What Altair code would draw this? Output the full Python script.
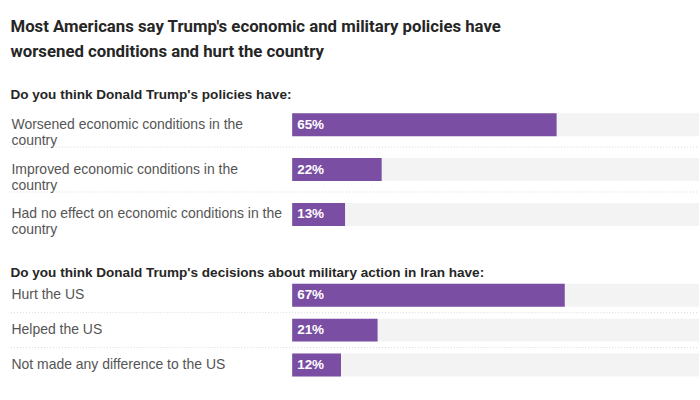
import altair as alt
import pandas as pd

# Survey answers, one list per question
q1_title = "Do you think Donald Trump's policies have:"
q1_labels = [
    "Worsened economic conditions in the\ncountry",
    "Improved economic conditions in the\ncountry",
    "Had no effect on economic conditions in the\ncountry",
]
q1_values = [65, 22, 13]

q2_title = "Do you think Donald Trump's decisions about military action in Iran have:"
q2_labels = [
    "Hurt the US",
    "Helped the US",
    "Not made any difference to the US",
]
q2_values = [67, 21, 12]

headline = [
    "Most Americans say Trump's economic and military policies have",
    "worsened conditions and hurt the country",
]

PURPLE = "#7a4ea3"
TRACK = "#f3f3f3"
GUTTER = 282      # room for the answer labels left of the bars
PLOT_W = 408      # bar track width
BAR_H = 23
FONT = "Liberation Sans"


def panel(title, labels, values, step, offset):
    df = pd.DataFrame({
        "answer": labels,
        "pct": values,
        "text": [f"{v}%" for v in values],
        "last": [i == len(labels) - 1 for i in range(len(labels))],
    })
    y = alt.Y(
        "answer:N",
        sort=labels,
        scale=alt.Scale(paddingInner=0, paddingOuter=0),
        axis=alt.Axis(
            title=None, domain=False, ticks=False, labelAlign="left",
            labelPadding=GUTTER, labelFontSize=14, labelColor="#555555",
            labelFont=FONT, labelLineHeight=16, labelLimit=290,
            labelExpr="split(datum.label, '\\n')",
        ),
    )
    xs = alt.Scale(domain=[0, 100], nice=False)
    base = alt.Chart(df)
    track = base.mark_bar(height=BAR_H, color=TRACK).encode(
        x=alt.datum(100, scale=xs, axis=None), y=y
    )
    bar = base.mark_bar(height=BAR_H, color=PURPLE).encode(
        x=alt.X("pct:Q", scale=xs, axis=None), y=y
    )
    txt = base.mark_text(
        align="left", dx=5, color="white", fontSize=13.5, fontWeight="bold", font=FONT
    ).encode(x=alt.datum(0, scale=xs), y=y, text="text:N")
    sep = base.transform_filter("!datum.last").mark_rule(
        color="#d9d9d9", strokeDash=[1, 2], strokeWidth=1
    ).encode(
        y=alt.Y("answer:N", sort=labels, bandPosition=1),
        x=alt.value(-GUTTER), x2=alt.value(PLOT_W),
    )
    return alt.layer(track, bar, txt, sep).properties(
        width=PLOT_W, height=alt.Step(step),
        title=alt.TitleParams(
            title, anchor="start", frame="bounds", fontSize=13.6, font=FONT,
            fontWeight="bold", color="#262626", offset=offset,
        ),
    )


chart = alt.vconcat(
    panel(q1_title, q1_labels, q1_values, 45, 1),
    panel(q2_title, q2_labels, q2_values, 35, -2),
    spacing=29,
).properties(
    title=alt.TitleParams(
        headline, anchor="start", frame="bounds", fontSize=16.8,
        font="Roboto", fontWeight="bold", color="#262626",
        lineHeight=25, offset=27,
    ),
    padding={"left": 10, "top": 18, "right": 0, "bottom": 0},
    background="white",
).configure_view(stroke=None)

chart.save("out.html", embed_options={"renderer": "svg", "actions": False})
